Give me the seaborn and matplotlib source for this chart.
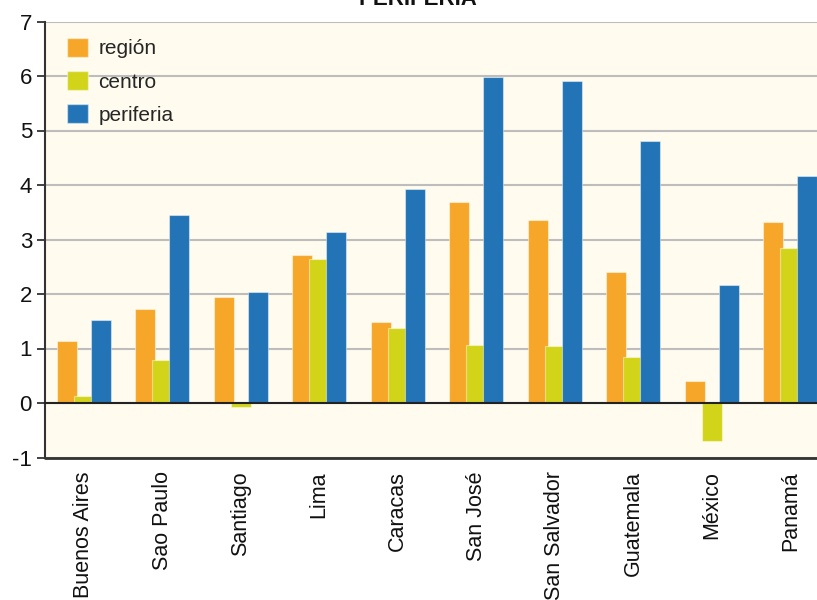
import matplotlib
matplotlib.use("Agg")
import matplotlib.pyplot as plt
from matplotlib.ticker import FixedLocator
from matplotlib.patches import Patch
import seaborn as sns
import pandas as pd
import numpy as np

# Cities and the three series
ciudades = ["Buenos Aires", "Sao Paulo", "Santiago", "Lima", "Caracas",
            "San José", "San Salvador", "Guatemala", "México", "Panamá"]
region = [1.14, 1.73, 1.95, 2.71, 1.49, 3.69, 3.36, 2.40, 0.41, 3.33]
centro = [0.12, 0.79, -0.08, 2.65, 1.38, 1.07, 1.05, 0.84, -0.69, 2.84]
periferia = [1.52, 3.45, 2.04, 3.13, 3.93, 5.98, 5.91, 4.80, 2.17, 4.17]

series = ["región", "centro", "periferia"]
colores = ["#F6A72A", "#D2D419", "#2274B6"]
titulo = "PERIFERIA"

df = pd.DataFrame({
    "ciudad": ciudades * 3,
    "serie": [s for s in series for _ in ciudades],
    "valor": region + centro + periferia,
})

sns.set_style("white")
plt.rcParams["font.family"] = ["Liberation Sans", "DejaVu Sans"]
plt.rcParams["axes.unicode_minus"] = False

fig = plt.figure(figsize=(8.17, 6.0), dpi=100)
ax = fig.add_axes([44.5 / 817, 1 - 457.5 / 600, 785 / 817, (457.5 - 21.5) / 600])
ax.set_facecolor("#FFFCEF")

sns.barplot(data=df, x="ciudad", y="valor", hue="serie", order=ciudades,
            hue_order=series, palette=colores, width=0.65, dodge=True,
            saturation=1, ax=ax, legend=False, zorder=3)

# widen each bar slightly so neighbours overlap, keeping its centre
for p in ax.patches:
    w = p.get_width()
    nw = w * 1.18
    p.set_x(p.get_x() - (nw - w) / 2)
    p.set_width(nw)
    p.set_edgecolor((1, 1, 1, 0.45))
    p.set_linewidth(0.8)

ax.set_xlim(-0.5, 9.5)
ax.set_ylim(-1, 7)
ax.set_yticks(range(-1, 8))
ax.set_xlabel("")
ax.set_ylabel("")

# horizontal gridlines
ax.yaxis.grid(True, color="#BDBDBD", linewidth=1.5, zorder=0)
ax.set_axisbelow(True)

# spines: left axis, category axis through zero, dark base line at -1
for s in ["top", "right"]:
    ax.spines[s].set_visible(False)
ax.spines["left"].set_color("#333333")
ax.spines["left"].set_linewidth(1.5)
ax.spines["bottom"].set_position(("data", 0))
ax.spines["bottom"].set_color("#222222")
ax.spines["bottom"].set_linewidth(1.5)
ax.spines["bottom"].set_zorder(5)
ax.axhline(-1, color="#333333", linewidth=2.0, zorder=5, clip_on=False)

ax.xaxis.set_minor_locator(FixedLocator(np.arange(0.5, 10, 1)))
ax.tick_params(axis="x", which="minor", direction="out", length=6,
               width=1.3, color="#222222")
ax.tick_params(axis="x", which="major", length=0, pad=49)
ax.set_xticks(range(len(ciudades)))
ax.set_xticklabels(ciudades, rotation=90, fontsize=15.5, va="top",
                   ha="center", color="#111111")
ax.tick_params(axis="y", which="major", direction="out", length=6,
               width=1.3, color="#333333", labelsize=16, pad=3,
               labelcolor="#111111", left=True)

handles = [Patch(facecolor=c, edgecolor=(1, 1, 1, 0.45), label=s)
           for s, c in zip(series, colores)]
ax.legend(handles=handles, loc="upper left", frameon=False, fontsize=15,
          handlelength=1.0, handleheight=1.05, handletextpad=0.5,
          labelspacing=0.6, borderaxespad=0.0, borderpad=0.0,
          bbox_to_anchor=(22.5 / 785, 1 - 16 / 436))

fig.text(417.5 / 817, 1 - 5 / 600, titulo, ha="center", va="baseline",
         fontsize=16, fontweight="bold", color="#111111")

fig.savefig("out.png", dpi=100)
